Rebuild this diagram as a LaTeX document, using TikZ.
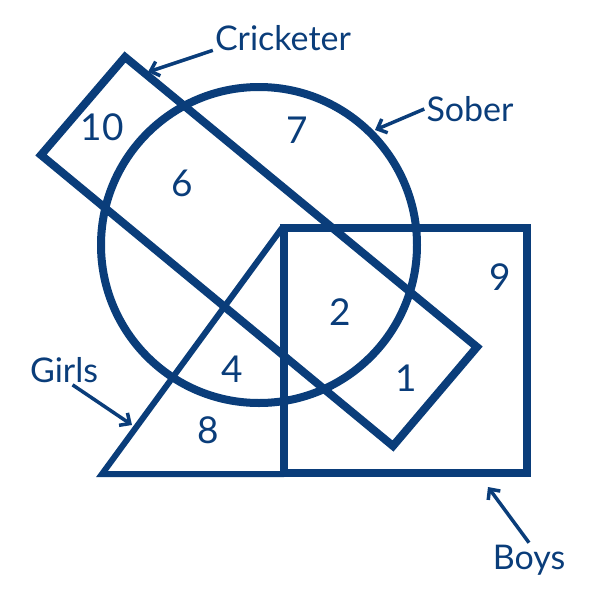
\documentclass[tikz,border=0pt]{standalone}
\usepackage{fontspec}
\setmainfont{Lato}
\usetikzlibrary{arrows.meta}
\definecolor{navy}{RGB}{10,61,122}

\begin{document}
\begin{tikzpicture}[x=1pt,y=-1pt,
    shapeline/.style={navy, line width=8pt, line join=miter},
    thinshape/.style={navy, line width=6pt, line join=miter},
    labeltext/.style={navy, font=\fontsize{34}{34}\selectfont, inner sep=2pt},
    region/.style={navy, font=\fontsize{37}{37}\selectfont},
    pointer/.style={navy, line width=3.5pt, -{Straight Barb[length=8pt,width=15pt]}}]
    % Frame
    \useasboundingbox (0,0) rectangle (600,600);

    % Sober circle
    \draw[shapeline] (259,245) circle[radius=158pt];

    % Cricketer strip
    \draw[shapeline] (125,57) -- (477,347) -- (393,446) -- (41,155) -- cycle;

    % Boys square
    \draw[shapeline] (284,228) rectangle (527,473);

    % Girls triangle
    \draw[thinshape] (282,228) -- (102,474) -- (284,474);

    % Region counts
    \foreach \name/\x/\y/\num in {ten/102/127/10, seven/297/130/7, six/182/183/6,
        nine/500/277/9, two/340/312/2, one/406/378/1, four/232/369/4, eight/208/430/8} {
        \node[region] (\name) at (\x,\y) {\num};
    }

    % Set labels
    \node[labeltext] (crick) at (283,38) {Cricketer};
    \node[labeltext] (sober) at (470,109) {Sober};
    \node[labeltext] (girls) at (64,370) {Girls};
    \node[labeltext] (boys) at (529,560) {Boys};

    % Pointer tips
    \coordinate (crickTip) at (148,72);
    \coordinate (soberTip) at (375,130);
    \coordinate (girlsTip) at (132,425);
    \coordinate (boysTip) at (488,487);

    % Pointers
    \draw[pointer] (crick.190) -- (crickTip);
    \draw[pointer] (sober.west) -- (soberTip);
    \draw[pointer] (girls.-60) -- (girlsTip);
    \draw[pointer] (boys.north) -- (boysTip);
\end{tikzpicture}
\end{document}
